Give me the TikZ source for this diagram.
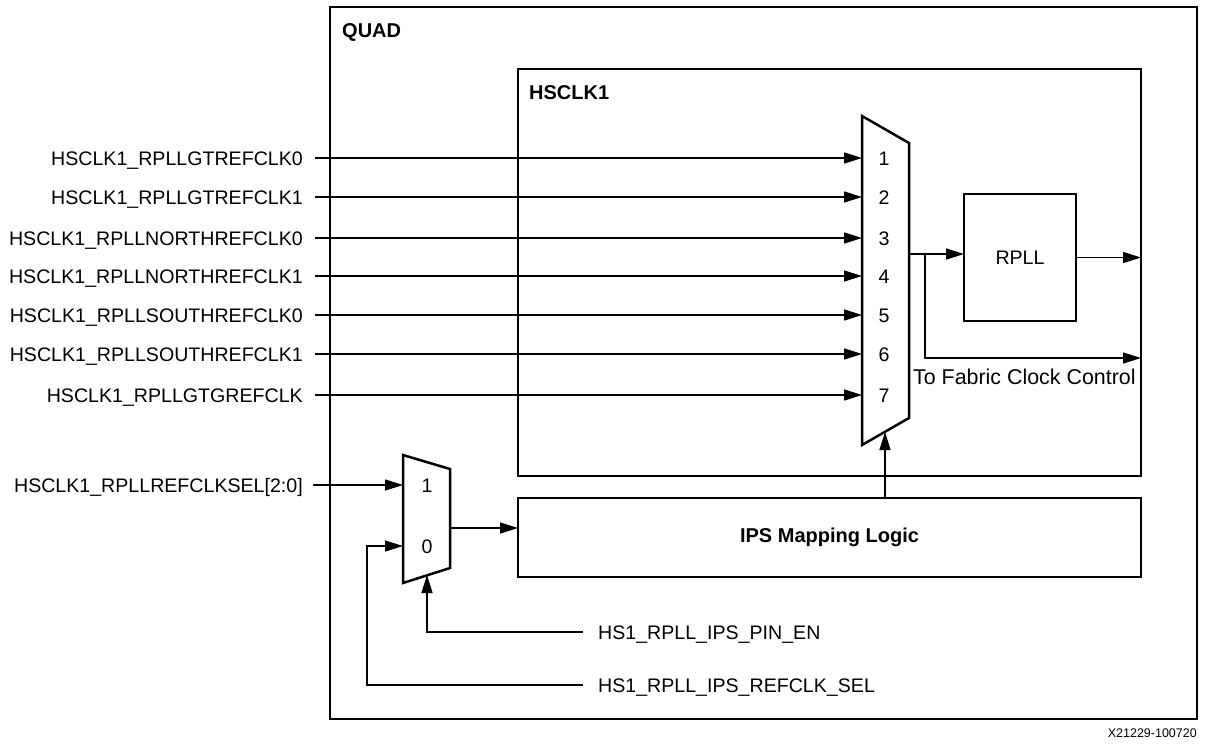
\documentclass[tikz,border=0pt]{standalone}
\usepackage{fontspec}
\setmainfont{Liberation Sans}
\usetikzlibrary{arrows.meta,calc}
\begin{document}
\begin{tikzpicture}[x=1pt,y=-1pt,
  box/.style={draw,line width=2.5pt,inner sep=0pt,outer sep=0pt,anchor=north west},
  muxline/.style={line width=2.5pt,line join=miter},
  wire/.style={line width=1.4pt},
  arr/.style={wire,-{Triangle[length=18pt,width=11pt]}},
  lbl/.style={font=\fontsize{19.6}{22}\selectfont,inner sep=0pt},
  lowlbl/.style={font=\fontsize{21.4}{24}\selectfont,inner sep=0pt},
  blbl/.style={font=\fontsize{20}{22}\selectfont\bfseries,inner sep=0pt},
  wmark/.style={font=\fontsize{12.5}{14}\selectfont,inner sep=0pt},
]
\useasboundingbox (0,0) rectangle (1206,744);

% frames
\node[box,minimum width=867pt,minimum height=712pt] (quad) at (330,7) {};
\node[blbl,anchor=base west] (quadlbl) at (342,37) {QUAD};
\node[box,minimum width=623pt,minimum height=407pt] (hsclk) at (518,69) {};
\node[blbl,anchor=base west] (hslbl) at (529,99) {HSCLK1};
\node[box,minimum width=623pt,minimum height=79pt] (ips) at (518,498) {};
\node[blbl] (ipslbl) at (ips.center) {IPS Mapping Logic};

% big mux
\draw[muxline] (862,116) -- (909,143) -- (909,418) -- (862,445) -- cycle;
\coordinate (muxout) at (909,254);
\coordinate (muxsel) at (885,432);

% inputs
\foreach \i/\y/\t in {1/158/HSCLK1\_RPLLGTREFCLK0,
                      2/197/HSCLK1\_RPLLGTREFCLK1,
                      3/238/HSCLK1\_RPLLNORTHREFCLK0,
                      4/276/HSCLK1\_RPLLNORTHREFCLK1,
                      5/315/HSCLK1\_RPLLSOUTHREFCLK0,
                      6/354/HSCLK1\_RPLLSOUTHREFCLK1,
                      7/395/HSCLK1\_RPLLGTGREFCLK}{
  \node[lbl,anchor=base east] (in\i) at (303,\y+7) {\t};
  \coordinate (min\i) at (862,\y);
  \node[lbl,anchor=base] (num\i) at (884,\y+7) {\i};
  \draw[arr] ([xshift=12pt]in\i.east |- min\i) -- (min\i);
}

% RPLL
\node[box,minimum width=112pt,minimum height=127pt] (rpll) at (964,194) {};
\node[lbl] (rplllbl) at (rpll.center) {RPLL};
\coordinate (br) at (925,254);
\coordinate (fab) at (1141,358);
\draw[arr] (muxout) -- (muxout -| rpll.west);
\draw[arr] (br) |- (fab);
\draw[arr] (rpll.east) -- (rpll.east -| hsclk.east);
\node[lowlbl,anchor=base west] (fablbl) at (913,384) {To Fabric Clock Control};

% select from IPS
\draw[arr] (ips.north -| muxsel) -- (muxsel);

% small mux
\draw[muxline] (403,455) -- (450,469) -- (450,568) -- (403,583) -- cycle;
\coordinate (sin1) at (403,485);
\coordinate (sin0) at (403,546);
\coordinate (sout) at (450,528);
\coordinate (ssel) at (427,575);
\node[lbl,anchor=base] (snum1) at (427,492) {1};
\node[lbl,anchor=base] (snum0) at (427,553) {0};
\draw[arr] (sout) -- (sout -| ips.west);

\node[lbl,anchor=base east] (refsel) at (303,492) {HSCLK1\_RPLLREFCLKSEL[2:0]};
\draw[arr] ([xshift=10pt]refsel.east |- sin1) -- (sin1);

\node[lbl,anchor=base west] (pinen) at (598,639) {HS1\_RPLL\_IPS\_PIN\_EN};
\node[lbl,anchor=base west] (ipsref) at (598,692) {HS1\_RPLL\_IPS\_REFCLK\_SEL};
\draw[arr] ([xshift=-15pt]pinen.west |- 0,632) -| (ssel);
\draw[arr] ([xshift=-15pt]ipsref.west |- 0,685) -| (367,546) -- (sin0);

\node[wmark,anchor=base east] (wm) at (1197,737) {X21229-100720};
\end{tikzpicture}
\end{document}
